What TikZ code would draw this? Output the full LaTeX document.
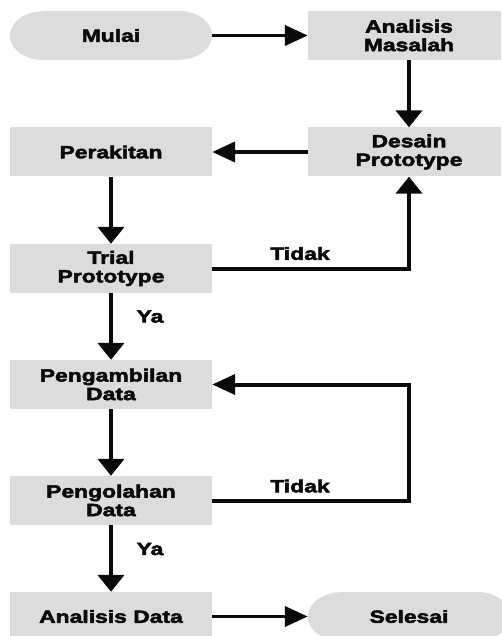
\documentclass[tikz,border=0pt]{standalone}
\usepackage{fontspec}
\setmainfont{Liberation Sans}[FakeStretch=1.3,FakeBold=3]
\usetikzlibrary{arrows.meta,backgrounds}
\definecolor{boxgray}{RGB}{220,220,220}
\definecolor{ink}{RGB}{10,10,10}
\begin{document}
\begin{tikzpicture}[x=1pt,y=1pt,
  txt/.style={font=\bfseries\fontsize{17.6}{18.6}\selectfont, text=ink},
  box/.style={txt, rectangle, fill=boxgray, minimum width=202pt, minimum height=49pt, inner sep=0pt, align=center},
  term/.style={txt, rectangle, minimum width=202pt, minimum height=49pt, inner sep=0pt, align=center},
  lab/.style={txt, inner sep=0pt},
  harrow/.style={line width=3.9pt, draw=ink, -{Triangle[length=23pt,width=20pt]}},
  varrow/.style={line width=4.4pt, draw=ink, -{Triangle[length=17pt,width=26pt]}}
]
\useasboundingbox (0,0) rectangle (501,-636);
\clip (0,0) rectangle (501,-636);

\node[term] (mulai)     at (111,-35.5)  {Mulai};
\node[box]  (am)        at (409,-35.5)  {Analisis\\Masalah};
\node[box]  (perakitan) at (111,-152)   {Perakitan};
\node[box]  (desain)    at (409,-152)   {Desain\\Prototype};
\node[box]  (trial)     at (111,-268.5) {Trial\\Prototype};
\node[box]  (ambil)     at (111,-384.5) {Pengambilan\\Data};
\node[box]  (olah)      at (111,-500.5) {Pengolahan\\Data};
\node[box]  (ad)        at (111,-616.5) {Analisis Data};
\node[term] (selesai)   at (409,-616.5) {Selesai};

\begin{scope}[on background layer]
\foreach \n in {mulai,selesai}{
  \fill[boxgray] ([xshift=34pt]\n.north west) -- ([xshift=-34pt]\n.north east)
    arc[start angle=90,end angle=-90,x radius=34pt,y radius=24.5pt]
    -- ([xshift=34pt]\n.south west)
    arc[start angle=270,end angle=90,x radius=34pt,y radius=24.5pt] -- cycle;
}
\end{scope}

\draw[harrow] (mulai) -- (am);
\draw[varrow] (am) -- (desain);
\draw[harrow] (desain) -- (perakitan);
\draw[varrow] (perakitan) -- (trial);
\draw[varrow, line width=4pt] (trial.east) -| (desain.south);
\draw[varrow] (trial) -- (ambil);
\draw[varrow] (ambil) -- (olah);
\draw[harrow, line width=4pt] (olah.east) -- (olah.east -| desain.south) |- (ambil.east);
\draw[varrow] (olah) -- (ad);
\draw[harrow] (ad) -- (selesai);

\node[lab] (t1) at (300,-253.5) {Tidak};
\node[lab] (t2) at (300,-486)   {Tidak};
\node[lab] (y1) at (150,-316.5) {Ya};
\node[lab] (y2) at (150,-549)   {Ya};
\end{tikzpicture}
\end{document}
